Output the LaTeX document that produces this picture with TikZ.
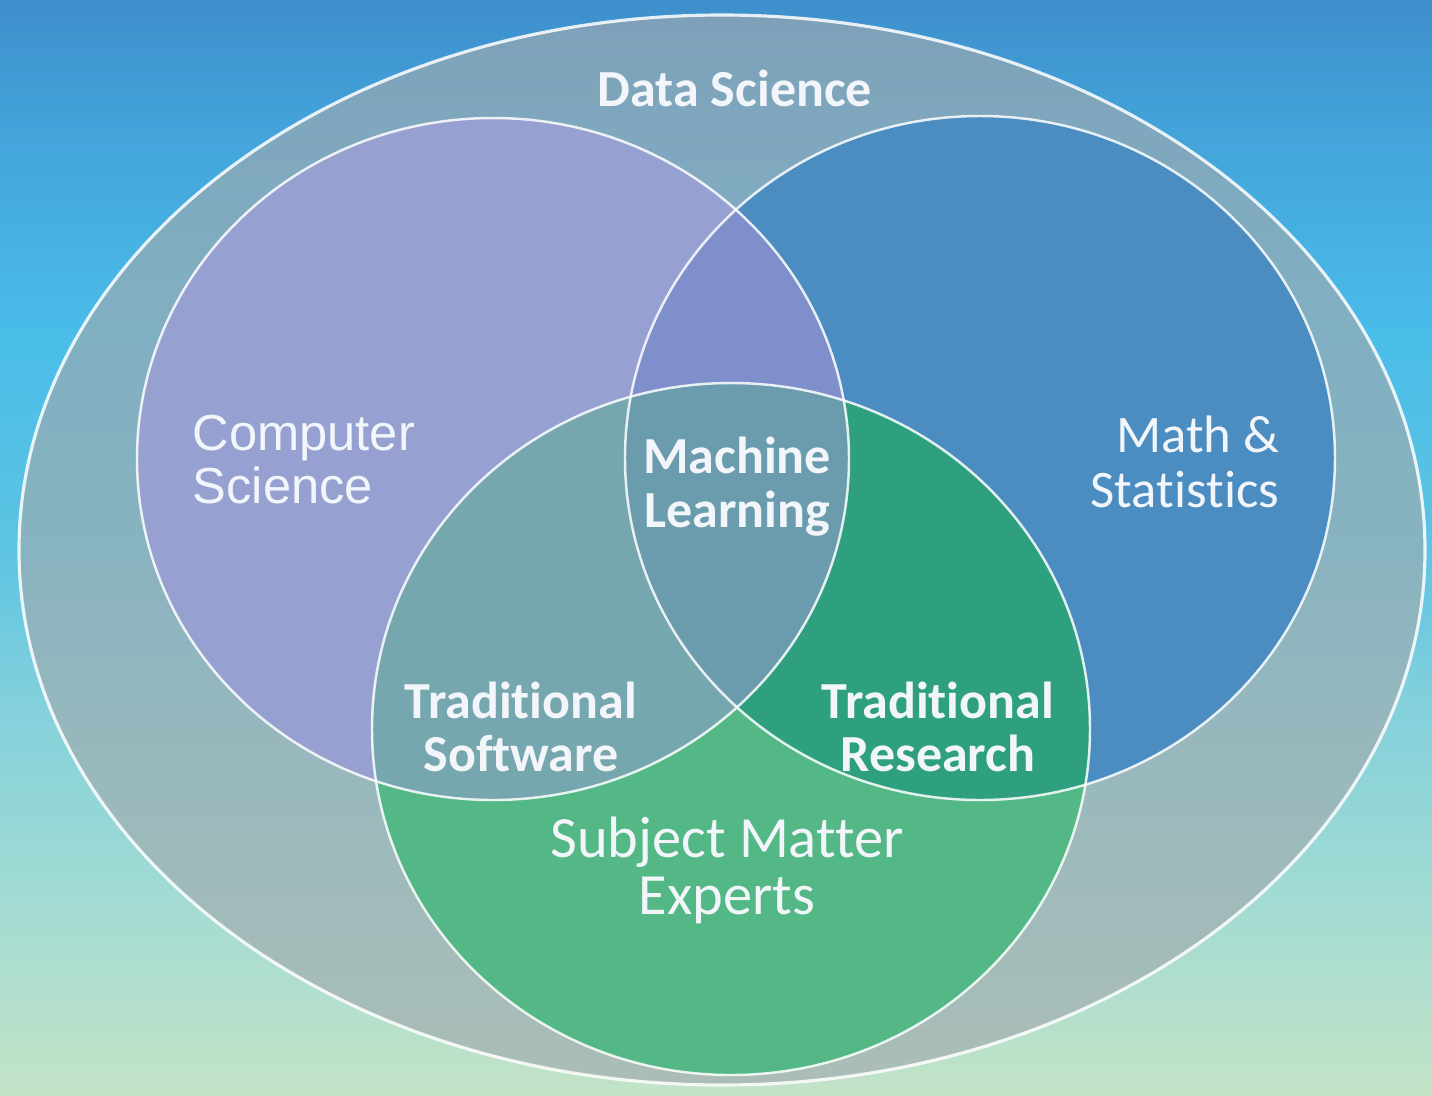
\documentclass[tikz,border=0pt]{standalone}
\usepackage{fontspec}
\setmainfont{Carlito}[Ligatures=NoCommon]
\newfontfamily\arialfont{Liberation Sans}

\definecolor{bgA}{HTML}{3E8FCB}
\definecolor{bgB}{HTML}{44A6DC}
\definecolor{bgC}{HTML}{4ABDE9}
\definecolor{bgD}{HTML}{5DC4E2}
\definecolor{bgE}{HTML}{82D0DC}
\definecolor{bgF}{HTML}{A2DBD3}
\definecolor{bgG}{HTML}{C3E3C6}
\definecolor{dsgray}{HTML}{A0AAAE}
\definecolor{cscol}{HTML}{97A1D1}
\definecolor{mscol}{HTML}{4B8DC1}
\definecolor{smecol}{HTML}{53B886}
\definecolor{csms}{HTML}{7E8FCC}
\definecolor{cssme}{HTML}{76A6AE}
\definecolor{mssme}{HTML}{2EA080}
\definecolor{allthree}{HTML}{6A9CAE}
\definecolor{txtcol}{HTML}{F2F6FA}

\pgfdeclareverticalshading{skyshade}{100bp}{color(0bp)=(bgG); color(25bp)=(bgG);
  color(33.9bp)=(bgF); color(43.1bp)=(bgE); color(49.9bp)=(bgD);
  color(59.5bp)=(bgC); color(68.2bp)=(bgB); color(75bp)=(bgA); color(100bp)=(bgA)}

\tikzset{
  rim/.style={draw=white, draw opacity=0.85, line width=0.7pt},
  setlabel/.style={text=txtcol, inner sep=0pt, font=\fontsize{14.6}{15.3}\selectfont},
  boldlabel/.style={setlabel, font=\fontsize{14.8}{15.3}\selectfont\bfseries, align=center}
}

\begin{document}
\begin{tikzpicture}[x=0.01cm, y=-0.01cm]
    % Define centres of sets
    \coordinate (ds) at (722,550);
    \coordinate (cs) at (493,459);
    \coordinate (ms) at (980,458);
    \coordinate (sme) at (731,729);
    \def\cs{(cs) ellipse (356 and 341)}
    \def\ms{(ms) ellipse (355 and 342)}
    \def\sme{(sme) ellipse (359 and 346)}

    % Draw background
    \useasboundingbox (0,0) rectangle (1432,1096);
    \fill[shading=skyshade] (0,0) rectangle (1432,1096);

    % Draw data science set
    \fill[dsgray, opacity=0.65] (ds) ellipse (703 and 535);
    \draw[rim, line width=0.9pt] (ds) ellipse (703 and 535);

    % Draw the three sets
    \fill[cscol] \cs;
    \fill[mscol] \ms;
    \fill[smecol] \sme;

    % Draw overlaps
    \begin{scope}
        \clip \cs;
        \fill[csms] \ms;
        \fill[cssme] \sme;
    \end{scope}
    \begin{scope}
        \clip \ms;
        \fill[mssme] \sme;
        \clip \cs;
        \fill[allthree] \sme;
    \end{scope}

    % Draw outlines
    \draw[rim] \cs;
    \draw[rim] \ms;
    \draw[rim] \sme;

    % Draw labels
    \node[boldlabel] (dslabel) at (735,88) {Data Science};
    \node[setlabel, font=\arialfont\fontsize{14.4}{15.1}\selectfont, align=left, anchor=west] (cslabel) at (192,460) {Computer\\Science};
    \node[setlabel, font=\fontsize{15}{15.8}\selectfont, align=right, anchor=east] (mslabel) at (1280,462) {Math \&\\Statistics};
    \node[boldlabel] (mllabel) at (737,487) {Machine\\Learning};
    \node[boldlabel] (swlabel) at (521,727) {Traditional\\Software};
    \node[boldlabel] (rslabel) at (938,727) {Traditional\\Research};
    \node[setlabel, font=\fontsize{16.6}{16.2}\selectfont, align=center] (smelabel) at (727,870) {Subject Matter\\Experts};
\end{tikzpicture}
\end{document}
